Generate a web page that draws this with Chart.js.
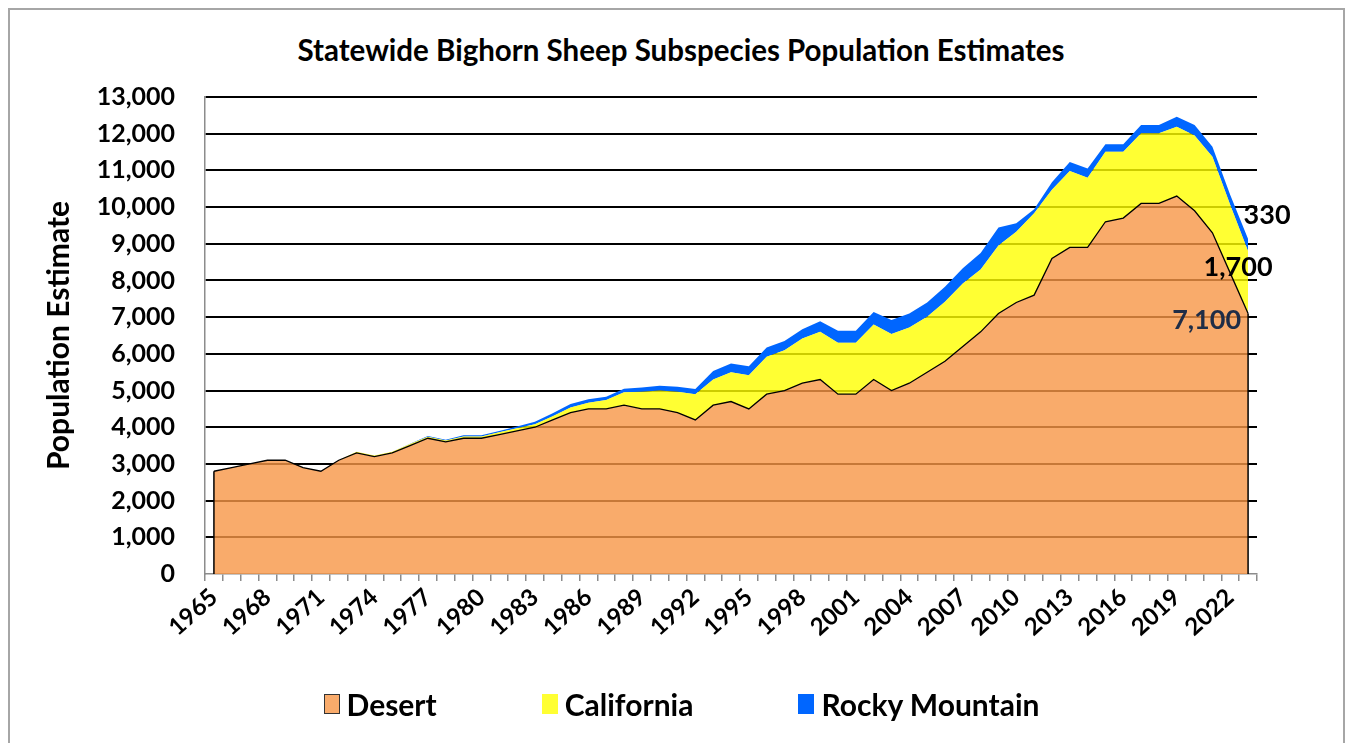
<!DOCTYPE html>
<html>
<head>
<meta charset="utf-8">
<title>Statewide Bighorn Sheep Subspecies Population Estimates</title>
<script src="https://cdn.jsdelivr.net/npm/chart.js@4.4.1/dist/chart.umd.min.js"></script>
<style>
  html, body { margin: 0; padding: 0; background: #fff; }
  body { width: 1353px; height: 743px; overflow: hidden; position: relative; font-family: Lato, sans-serif; }
  #frame { position: absolute; left: 8px; top: 8px; width: 1337px; height: 780px; border: 2px solid #a6a6a6; box-sizing: border-box; }
  #wrap { position: absolute; left: 0; top: 0; width: 1353px; height: 743px; }
  #titulo { position: absolute; left: 0; top: 32px; width: 1362px; text-align: center; font: bold 29.5px Lato, sans-serif; color: #000; line-height: 36px; }
  #legend { position: absolute; left: 5px; top: 684px; width: 1353px; display: flex; justify-content: center; gap: 105px; }
  .item { display: flex; align-items: center; font: bold 30px Lato, sans-serif; color: #000; line-height: 40px; }
  .swatch { display: inline-block; width: 16px; height: 20px; margin-right: 7px; box-sizing: border-box; }
</style>
</head>
<body>
<div id="frame"></div>
<div id="titulo">Statewide Bighorn Sheep Subspecies Population Estimates</div>
<div id="wrap"><canvas id="myChart" width="1353" height="743"></canvas></div>
<div id="legend"></div>
<script>
// años (categorías del eje x)
const years = ["1965","1966","1967","1968","1969","1970","1971","1972","1973","1974",
  "1975","1976","1977","1978","1979","1980","1981","1982","1983","1984",
  "1985","1986","1987","1988","1989","1990","1991","1992","1993","1994",
  "1995","1996","1997","1998","1999","2000","2001","2002","2003","2004",
  "2005","2006","2007","2008","2009","2010","2011","2012","2013","2014",
  "2015","2016","2017","2018","2019","2020","2021","2022","2023"];

// etiquetas visibles del eje x (cada 3 años)
const tickLabels = ["1965","1968","1971","1974","1977","1980","1983","1986","1989","1992",
  "1995","1998","2001","2004","2007","2010","2013","2016","2019","2022"];

const desert = [2800,2900,3000,3100,3100,2900,2800,3100,3300,3200,
  3300,3500,3700,3600,3700,3700,3800,3900,4000,4200,
  4400,4500,4500,4600,4500,4500,4400,4200,4600,4700,
  4500,4900,5000,5200,5300,4900,4900,5300,5000,5200,
  5500,5800,6200,6600,7100,7400,7600,8600,8900,8900,
  9600,9700,10100,10100,10300,9900,9300,8200,7100];

const california = [0,0,0,0,0,0,0,0,30,30,
  30,40,40,40,50,50,60,70,80,100,
  140,170,240,350,470,500,570,700,700,800,
  920,1020,1100,1220,1300,1400,1400,1500,1540,1520,
  1510,1620,1720,1700,1850,1930,2230,1870,2080,1900,
  1910,1810,1910,1910,1890,2050,2075,1860,1700];

const rocky = [0,0,0,0,0,0,0,0,0,0,
  0,10,20,20,30,30,40,50,70,80,
  90,90,90,100,110,130,130,140,230,240,
  240,250,250,250,290,330,330,340,380,380,
  390,410,410,450,490,230,110,210,250,250,
  200,200,230,230,270,290,270,270,330];

const seriesNames = ["Desert", "California", "Rocky Mountain"];

const fmt = v => v.toLocaleString("en-US");

// bordes verticales del área Desert (como en Excel)
const areaEdges = {
  id: "areaEdges",
  afterDatasetsDraw(chart) {
    const pts = chart.getDatasetMeta(0).data;
    const base = chart.scales.y.getPixelForValue(0);
    const ctx = chart.ctx;
    ctx.save();
    ctx.strokeStyle = "#000";
    ctx.lineWidth = 1.5;
    [pts[0], pts[pts.length - 1]].forEach(p => {
      ctx.beginPath();
      ctx.moveTo(p.x, p.y);
      ctx.lineTo(p.x, base);
      ctx.stroke();
    });
    ctx.restore();
  }
};

// etiquetas del último valor de cada serie
const endLabels = {
  id: "endLabels",
  afterDatasetsDraw(chart) {
    const ctx = chart.ctx;
    const estilos = [
      { dx: -7, dy: 7, align: "right", color: "#1f2d47" },
      { dx: -10, dy: 16, align: "center", color: "#000" },
      { dx: 19, dy: -24, align: "center", color: "#000" }
    ];
    ctx.save();
    ctx.font = "bold 27px Lato";
    ctx.textBaseline = "middle";
    chart.data.datasets.forEach((ds, i) => {
      const pts = chart.getDatasetMeta(i).data;
      const p = pts[pts.length - 1];
      const e = estilos[i];
      ctx.fillStyle = e.color;
      ctx.textAlign = e.align;
      ctx.fillText(fmt(ds.data[ds.data.length - 1]), p.x + e.dx, p.y + e.dy);
    });
    ctx.restore();
  }
};

const colores = {
  fill: ["rgba(247,150,70,0.8)", "rgba(255,255,0,0.8)", "#0066ff"],
  border: ["#000", "rgba(0,0,0,0)", "rgba(0,0,0,0)"]
};

const ctx = document.getElementById("myChart").getContext("2d");
const chart = new Chart(ctx, {
  type: "line",
  data: {
    labels: years,
    datasets: [desert, california, rocky].map((serie, i) => ({
      label: seriesNames[i],
      data: serie,
      backgroundColor: colores.fill[i],
      borderColor: colores.border[i],
      borderWidth: i === 0 ? 1.3 : 0,
      fill: i === 0 ? "origin" : "-1",
      pointRadius: 0,
      tension: 0
    }))
  },
  options: {
    responsive: false,
    animation: false,
    layout: { padding: { top: 97, left: 10, right: 96, bottom: 0 } },
    plugins: {
      legend: { display: false },
      tooltip: { enabled: false },
      title: { display: false }
    },
    scales: {
      x: {
        offset: true,
        grid: { display: true, offset: true, drawOnChartArea: false, tickLength: 7, color: "#8c8c8c", lineWidth: 1.5 },
        border: { color: "#8c8c8c", width: 1.5 },
        ticks: {
          autoSkip: false,
          minRotation: 42,
          maxRotation: 42,
          padding: 2,
          color: "#000",
          font: { family: "Lato", size: 24, weight: "bold" },
          callback(value) {
            const lab = this.getLabelForValue(value);
            return tickLabels.includes(lab) ? lab : "";
          }
        },
        afterFit(scale) { scale.height = 169; }
      },
      y: {
        stacked: true,
        min: 0,
        max: 13000,
        grid: {
          drawTicks: false,
          lineWidth: 2,
          color: c => (c.tick && c.tick.value === 0 ? "rgba(0,0,0,0)" : "#000")
        },
        border: { color: "#8c8c8c", width: 1.5 },
        ticks: {
          stepSize: 1000,
          padding: 30,
          color: "#000",
          font: { family: "Lato", size: 25, weight: "bold" },
          callback: v => fmt(v)
        },
        title: {
          display: true,
          text: "Population Estimate",
          color: "#000",
          font: { family: "Lato", size: 30, weight: "bold" },
          padding: { top: 31, bottom: 0 }
        },
        afterFit(scale) { scale.width = 195; }
      }
    }
  },
  plugins: [areaEdges, endLabels]
});

// leyenda en HTML
const legend = document.getElementById("legend");
chart.data.datasets.forEach((ds, i) => {
  const item = document.createElement("div");
  item.className = "item";
  const sw = document.createElement("span");
  sw.className = "swatch";
  sw.style.background = ds.backgroundColor;
  if (i === 0) sw.style.border = "1.5px solid #333";
  item.appendChild(sw);
  item.appendChild(document.createTextNode(ds.label));
  legend.appendChild(item);
});
</script>
</body>
</html>
